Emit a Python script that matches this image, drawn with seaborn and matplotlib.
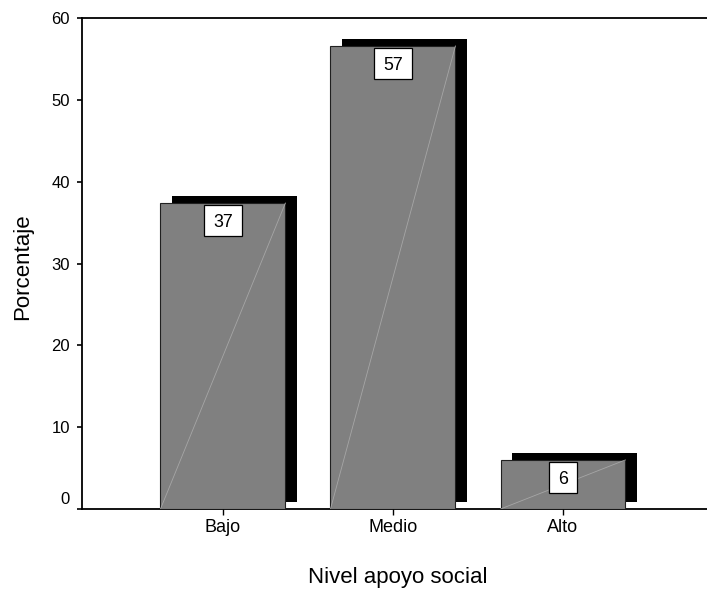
import numpy as np
import pandas as pd
import matplotlib
matplotlib.use("Agg")
import matplotlib.pyplot as plt
import matplotlib.transforms as mtransforms
from matplotlib.patches import Rectangle
import seaborn as sns

# Data: share of respondents by level of social support (%)
categories = ["Bajo", "Medio", "Alto"]
percentages = [37.4, 56.6, 6.0]
y_ticks = [0, 10, 20, 30, 40, 50, 60]

BAR_GRAY = "#808080"
BAR_WIDTH = 0.735
DEPTH_X = 0.068   # horizontal offset of the 3D back face (data units)
DEPTH_Y = 0.86    # vertical offset of the 3D back face (data units)

sns.set_style("ticks")
plt.rcParams["font.family"] = ["Liberation Sans", "DejaVu Sans"]
plt.rcParams["text.color"] = "black"
plt.rcParams["axes.labelcolor"] = "black"

DPI = 100
fig = plt.figure(figsize=(7.07, 5.92), dpi=DPI)
ax = fig.add_axes([82 / 707, 83 / 592, 625 / 707, 491 / 592])

df = pd.DataFrame({"nivel": categories, "porcentaje": percentages})
sns.barplot(data=df, x="nivel", y="porcentaje", color=BAR_GRAY, saturation=1,
            width=BAR_WIDTH, edgecolor="#202020", linewidth=0.8, ax=ax, zorder=3)
bar_patches = list(ax.patches)

# Back face of each bar, shifted right and up to give a 3D look
pos = np.arange(len(categories))
ax.bar(pos + DEPTH_X, percentages, width=BAR_WIDTH, bottom=DEPTH_Y,
       color="black", linewidth=0, zorder=2)

# Faint diagonal across each bar face
for p in bar_patches:
    x0 = p.get_x()
    x1 = x0 + p.get_width()
    h = p.get_height()
    ax.plot([x0, x1], [0, h], color="#a6a6a6", lw=0.6, zorder=4)

# Value labels in white boxes hanging just under the top of each bar
for i, v in enumerate(percentages):
    label = f"{v:.0f}"
    w_px = 18 + 10 * len(label)
    h_px = 31
    gap_px = 2
    anchor = fig.dpi_scale_trans + mtransforms.ScaledTranslation(i, v, ax.transData)
    ax.add_patch(Rectangle((-w_px / 2 / DPI, -(gap_px + h_px) / DPI), w_px / DPI, h_px / DPI,
                           transform=anchor, facecolor="white", edgecolor="black",
                           lw=0.9, zorder=6, clip_on=False))
    ax.text(0, -(gap_px + h_px / 2) / DPI, label, transform=anchor, ha="center",
            va="center_baseline", fontsize=12.8, zorder=7)

ax.set_xlim(-0.829, 2.847)
ax.set_ylim(0, 60)
ax.set_yticks(y_ticks)

ax.spines["right"].set_visible(False)
for side in ("left", "bottom", "top"):
    ax.spines[side].set_linewidth(1.3)
    ax.spines[side].set_color("black")

ax.tick_params(axis="y", length=3.8, width=1.2, pad=5, labelsize=12, colors="black")
ax.tick_params(axis="x", length=4, width=1.0, pad=3, labelsize=13, colors="black")

# lift the bottom tick label clear of the x axis
lift = mtransforms.ScaledTranslation(0, 11 / DPI, fig.dpi_scale_trans)
ylabels = ax.get_yticklabels()
ylabels[0].set_transform(ylabels[0].get_transform() + lift)

ax.set_xlabel("Nivel apoyo social", fontsize=16)
ax.set_ylabel("Porcentaje", fontsize=16)
ax.xaxis.set_label_coords(0.506, -0.118)
ax.yaxis.set_label_coords(-0.078, 0.494)

fig.savefig("out.png", dpi=DPI)
